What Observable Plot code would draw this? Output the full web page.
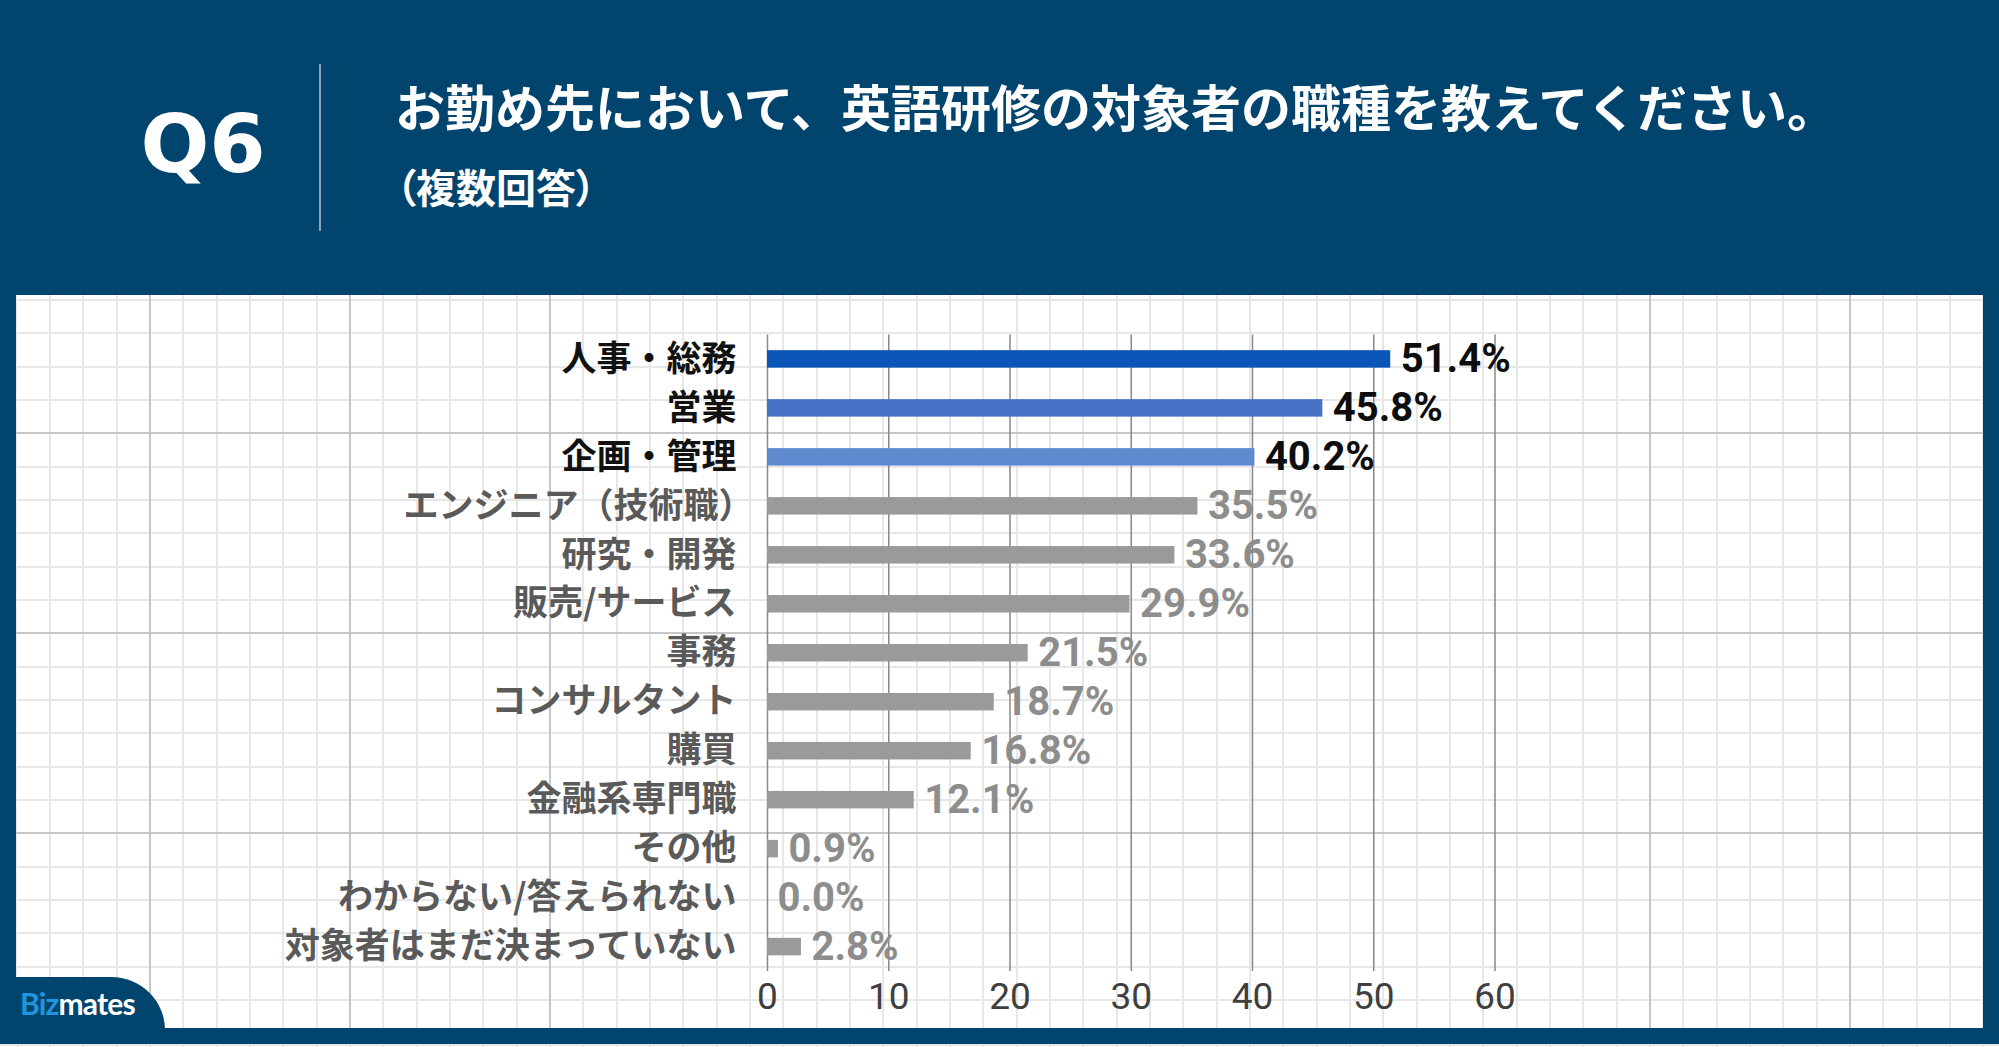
<!DOCTYPE html>
<html>
<head>
<meta charset="utf-8">
<script src="https://cdn.jsdelivr.net/npm/d3@7"></script>
<script src="https://cdn.jsdelivr.net/npm/@observablehq/plot@0.6"></script>
<style>
  html, body { margin: 0; padding: 0; }
  body { width: 1999px; height: 1047px; background: #01446d; position: relative; overflow: hidden; font-family: "Noto Sans CJK JP", sans-serif; }
  .paper { position: absolute; background-color: #fff;
    background-image:
      repeating-linear-gradient(90deg, #e7e7e7 0 2px, transparent 2px 33.3333px),
      repeating-linear-gradient(180deg, #e7e7e7 0 2px, transparent 2px 33.3333px);
  }
  #panel { left: 16px; top: 295px; width: 1967px; height: 733px; background-position: 33px 0, 0 4px; z-index: 1; }
  #strip { left: 0; top: 1044px; width: 1999px; height: 3px; background-position: 49px 0, 0 0; z-index: 1; }
  .major { position: absolute; background: #c7c7c7; z-index: 1; }
  #logo { position: absolute; left: 0; top: 977px; width: 165px; height: 53px; background: #01446d; border-top-right-radius: 54px 53px; z-index: 2; }
  #logo span.t { position: absolute; left: 20px; top: 8px; font-family: Lato, sans-serif; font-weight: 700; font-size: 30px; letter-spacing: -0.8px; line-height: 36px; }
  #header { position: absolute; left: 0; top: 0; z-index: 3; }
  #chart { position: absolute; left: 0; top: 0; z-index: 4; }
</style>
</head>
<body>
<div id="panel" class="paper"></div>
<div id="strip" class="paper"></div>
<div id="majors"></div>
<div id="logo"><span class="t"><span style="color:#2196dc">Biz</span><span style="color:#fff">mates</span></span></div>
<svg id="header" width="1999" height="295">
  <text x="203" y="172" text-anchor="middle" fill="#fff" style="font-family:'DejaVu Sans',sans-serif;font-weight:700;font-size:81px">Q6</text>
  <line x1="320" x2="320" y1="64" y2="231" stroke="#b9c5d0" stroke-width="1.5"></line>
  <text x="395" y="127" fill="#fff" style="font-family:'Noto Sans CJK JP',sans-serif;font-weight:700;font-size:50px">お勤め先において、英語研修の対象者の職種を教えてください。</text>
  <text x="396" y="203" fill="#fff" style="font-family:'Noto Sans CJK JP',sans-serif;font-weight:700;font-size:40px;font-feature-settings:'palt'">（複数回答）</text>
</svg>
<div id="chart"></div>
<script>
// ---- data ----
const categories = [
  "人事・総務", "営業", "企画・管理", "エンジニア（技術職）", "研究・開発",
  "販売/サービス", "事務", "コンサルタント", "購買", "金融系専門職",
  "その他", "わからない/答えられない", "対象者はまだ決まっていない"
];
const values = [51.4, 45.8, 40.2, 35.5, 33.6, 29.9, 21.5, 18.7, 16.8, 12.1, 0.9, 0.0, 2.8];
const xTicks = [0, 10, 20, 30, 40, 50, 60];

// ---- styles ----
const highlightColors = ["#0b55b6", "#4673c5", "#5e8ad0"];
const grayBar = "#9a9a9a";

// ---- graph paper major lines (decoration) ----
const majors = document.getElementById("majors");
[150, 350, 550, 1650, 1850].forEach(x => {
  const d = document.createElement("div");
  d.className = "major";
  d.style.cssText = `left:${x - 1}px;top:295px;width:2px;height:733px;`;
  majors.appendChild(d);
});
[433, 633, 833].forEach(y => {
  const d = document.createElement("div");
  d.className = "major";
  d.style.cssText = `left:16px;top:${y - 1}px;width:1967px;height:2px;`;
  majors.appendChild(d);
});

// ---- chart ----
const data = categories.map((c, i) => ({category: c, value: values[i], idx: i}));
const isTop = d => d.idx < 3;
const endsParen = d => d.category.endsWith("）");

const plot = Plot.plot({
  width: 1999,
  height: 1047,
  marginLeft: 767,
  marginRight: 504.5,
  marginTop: 334.5,
  marginBottom: 76,
  style: {background: "transparent", fontFamily: "Roboto, sans-serif"},
  x: {domain: [0, 60], label: null},
  y: {domain: categories, paddingInner: 0.643, paddingOuter: 0.32, round: false, axis: null, label: null},
  color: {type: "identity"},
  marks: [
    Plot.ruleX(xTicks, {stroke: "#888", strokeWidth: 1.5}),
    Plot.barX(data, {x: "value", y: "category", fill: d => isTop(d) ? highlightColors[d.idx] : grayBar}),
    Plot.text(data.filter(d => !endsParen(d)), {
      x: 0, y: "category", text: "category", textAnchor: "end", dx: -31,
      fill: d => isTop(d) ? "#111" : "#5a5a5a",
      fontSize: 35, fontWeight: 700, fontFamily: "Noto Sans CJK JP"
    }),
    Plot.text(data.filter(d => endsParen(d)), {
      x: 0, y: "category", text: "category", textAnchor: "end", dx: -14,
      fill: d => isTop(d) ? "#111" : "#5a5a5a",
      fontSize: 35, fontWeight: 700, fontFamily: "Noto Sans CJK JP"
    }),
    Plot.text(data, {
      x: "value", y: "category", text: d => d.value.toFixed(1) + "%",
      textAnchor: "start", dx: 10,
      fill: d => isTop(d) ? "#0d0d0d" : "#8d8d8d",
      fontSize: 40, fontWeight: 700, fontFamily: "Roboto"
    }),
    Plot.axisX({ticks: xTicks, tickSize: 0, tickPadding: 11, fontSize: 37, fill: "#3f3f3f", fontFamily: "Roboto", label: null, tickFormat: d => String(d)})
  ]
});
document.getElementById("chart").appendChild(plot);
</script>
</body>
</html>
